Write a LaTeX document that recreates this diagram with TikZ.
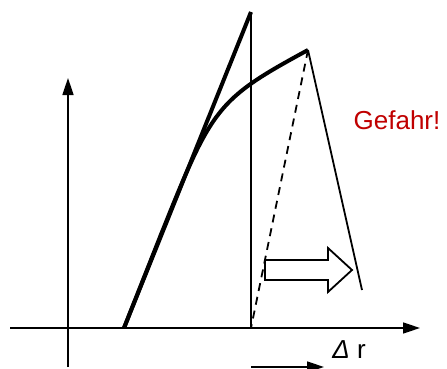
\documentclass[tikz,border=0pt]{standalone}
\usepackage{fontspec}
\setmainfont{Liberation Sans}
\usetikzlibrary{arrows.meta}
\definecolor{warnrot}{RGB}{192,0,0}

\begin{document}
\begin{tikzpicture}[x=1pt,y=-1pt]
\useasboundingbox (0,0) rectangle (447,369);
\tikzset{axis/.style={line width=1.6pt,-{Triangle[length=17pt,width=11pt]}},
  thin/.style={line width=1.8pt},
  thick/.style={line width=4pt}}
\coordinate (xs) at (10,328);
\coordinate (xe) at (420,328);
\coordinate (ys) at (68,367);
\coordinate (ye) at (68,78);
\coordinate (A) at (124,328);
\coordinate (B) at (160,237);
\coordinate (T) at (251,12);
\coordinate (F) at (251,328);
\coordinate (K) at (308,50);
\coordinate (E) at (362,290);
\coordinate (bs) at (251,367);
\coordinate (be) at (324,367);
\draw[axis] (xs)--(xe);
\draw[axis] (ys)--(ye);
\draw[thick] (A)--(T);
\draw[thin] (T)--(F);
\draw[thick] (A)--(B) .. controls (212,107) and (216,100) .. (K);
\draw[thin] (K)--(E);
\draw[thin,dash pattern=on 8pt off 6pt] (K)--(F);
% Pfeil nach rechts
\draw[thin,fill=white] (265,260)--(328,260)--(328,248)--(352,270)--(328,292)--(328,280)--(265,280)--cycle;
\node[text=warnrot,font=\fontsize{26}{30}\selectfont] (gefahr) at (397,120) {Gefahr!};
\node[font=\fontsize{26}{30}\selectfont] (dr) at (349,350) {\textit{Δ} r};
\draw[axis] (bs)--(be);
\end{tikzpicture}
\end{document}
